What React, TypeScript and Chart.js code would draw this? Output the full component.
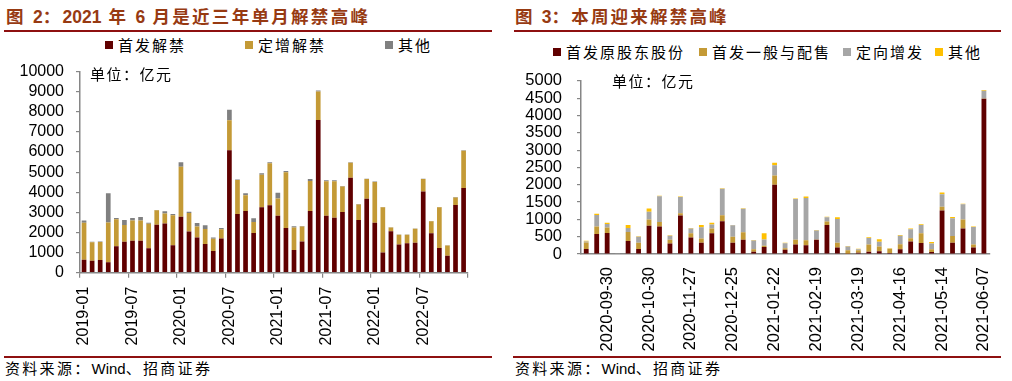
import React, { useEffect, useRef } from "react";
import { Chart, registerables } from "chart.js";

Chart.register(...registerables);

// ---------- Figure 2: monthly unlock (亿元) ----------
const monthLabels: string[] = [
  "2019-01", "2019-02", "2019-03", "2019-04", "2019-05", "2019-06",
  "2019-07", "2019-08", "2019-09", "2019-10", "2019-11", "2019-12",
  "2020-01", "2020-02", "2020-03", "2020-04", "2020-05", "2020-06",
  "2020-07", "2020-08", "2020-09", "2020-10", "2020-11", "2020-12",
  "2021-01", "2021-02", "2021-03", "2021-04", "2021-05", "2021-06",
  "2021-07", "2021-08", "2021-09", "2021-10", "2021-11", "2021-12",
  "2022-01", "2022-02", "2022-03", "2022-04", "2022-05", "2022-06",
  "2022-07", "2022-08", "2022-09", "2022-10", "2022-11", "2022-12",
];
const ipoUnlock: number[] = [
  645, 600, 630, 520, 1320, 1540, 1590, 1590, 1210, 2390, 2450, 1370,
  2780, 2045, 1745, 1430, 1085, 1700, 6085, 2925, 3066, 1980, 3255, 3350,
  2830, 2217, 1130, 1555, 3066, 7594, 2830, 2736, 3019, 4717, 2626, 3680,
  2484, 1006, 2060, 1400, 1462, 1494, 4041, 1965, 1226, 849, 3365, 4214,
];
const placementUnlock: number[] = [
  1840, 910, 895, 1980, 1337, 835, 1005, 1005, 1227, 710, 490, 1490,
  2490, 925, 550, 740, 597, 455, 1495, 1682, 784, 535, 1620, 2090,
  865, 2783, 1120, 740, 1494, 1416, 1714, 1808, 1273, 755, 770, 974,
  2029, 2249, 188, 487, 425, 692, 613, 598, 2029, 503, 377, 1855,
];
const otherUnlock: number[] = [
  110, 30, 30, 1445, 63, 250, 125, 175, 48, 15, 110, 65,
  220, 65, 175, 190, 63, 62, 520, 25, 95, 190, 75, 50,
  285, 63, 60, 25, 94, 47, 47, 47, 16, 20, 20, 20,
  18, 18, 10, 18, 18, 18, 18, 10, 18, 10, 18, 18,
];
const leftLegend: string[] = ["首发解禁", "定增解禁", "其他"];

// ---------- Figure 3: weekly unlock (亿元) ----------
const weekLabels: string[] = [
  "2020-09-18", "2020-09-25", "2020-09-30", "2020-10-09", "2020-10-16",
  "2020-10-23", "2020-10-30", "2020-11-06", "2020-11-13", "2020-11-20",
  "2020-11-27", "2020-12-04", "2020-12-11", "2020-12-18", "2020-12-25",
  "2021-01-01", "2021-01-08", "2021-01-15", "2021-01-22", "2021-01-29",
  "2021-02-05", "2021-02-12", "2021-02-19", "2021-02-26", "2021-03-05",
  "2021-03-12", "2021-03-19", "2021-03-26", "2021-04-02", "2021-04-09",
  "2021-04-16", "2021-04-23", "2021-04-30", "2021-05-07", "2021-05-14",
  "2021-05-21", "2021-05-28", "2021-06-04", "2021-06-07",
];
const ipoOriginalHolders: number[] = [
  145, 578, 605, 0, 378, 145, 813, 795, 300, 1112,
  473, 327, 600, 945, 327, 409, 64, 200, 2000, 122,
  273, 255, 409, 836, 191, 9, 36, 64, 82, 27,
  136, 364, 318, 55, 1255, 327, 736, 191, 4482,
];
const ipoGeneralPlacement: number[] = [
  188, 218, 159, 12, 258, 182, 187, 132, 109, 66,
  127, 118, 136, 173, 173, 218, 72, 36, 264, 45,
  136, 145, 9, 100, 136, 100, 73, 209, 136, 118,
  146, 91, 282, 81, 109, 191, 264, 82, 9,
];
const privatePlacement: number[] = [
  27, 330, 100, 10, 114, 173, 218, 740, 118, 472,
  136, 328, 119, 764, 327, 682, 255, 182, 300, 140,
  1182, 1218, 264, 128, 682, 109, 27, 191, 137, 10,
  245, 263, 236, 164, 363, 518, 436, 509, 227,
];
const otherTypes: number[] = [
  22, 40, 36, 0, 86, 14, 95, 12, 14, 12,
  14, 63, 45, 14, 14, 14, 14, 182, 72, 20,
  14, 46, 14, 14, 55, 14, 14, 20, 72, 14,
  20, 20, 20, 45, 46, 30, 14, 14, 20,
];
const rightLegend: string[] = ["首发原股东股份", "首发一般与配售", "定向增发", "其他"];

const MAROON = "#600000";
const GOLD = "#C49A36";
const DARKGREY = "#808080";
const LIGHTGREY = "#A6A6A6";
const YELLOW = "#FFC000";
const AXIS = "#868686";
const RULE = "#8E1010";
const TITLE = "#973A12";
const NUM_FONT = '"Liberation Sans", Arial, sans-serif';
const CJK_FONT = '"Noto Sans CJK SC", "Liberation Sans", sans-serif';

function baseOptions(p: {
  padTop: number;
  padRight: number;
  yWidth: number;
  xHeight: number;
  yMax: number;
  yStep: number;
  labelEvery: number;
  labelStart: number;
  xTicks: boolean;
  xPad: number;
  yPad: number;
  fontSize: number;
}): any {
  return {
    responsive: false,
    animation: false,
    events: [],
    layout: { padding: { top: p.padTop, right: p.padRight, left: 0, bottom: 0 } },
    plugins: {
      legend: { display: false },
      tooltip: { enabled: false },
      title: { display: false },
    },
    scales: {
      x: {
        stacked: true,
        offset: true,
        grid: {
          offset: true,
          drawOnChartArea: false,
          drawTicks: true,
          tickLength: 5,
          lineWidth: 1.2,
          color: AXIS,
          tickColor: (c: any) =>
            p.xTicks && (c.index === undefined || c.index % p.labelEvery === 0)
              ? AXIS
              : "rgba(0,0,0,0)",
        },
        border: { color: AXIS, width: 1.5 },
        ticks: {
          autoSkip: false,
          maxRotation: 90,
          minRotation: 90,
          padding: p.xPad,
          color: "#000",
          font: { family: NUM_FONT, size: p.fontSize },
          callback: function (this: any, v: any, i: number) {
            return i % p.labelEvery === p.labelStart ? this.getLabelForValue(v) : "";
          },
        },
        afterFit: (s: any) => {
          s.height = p.xHeight;
        },
      },
      y: {
        stacked: true,
        min: 0,
        max: p.yMax,
        grid: {
          drawOnChartArea: false,
          drawTicks: true,
          tickLength: 4,
          color: AXIS,
          lineWidth: 1.2,
        },
        border: { color: AXIS, width: 1.5 },
        ticks: {
          autoSkip: false,
          stepSize: p.yStep,
          padding: p.yPad,
          color: "#000",
          font: { family: NUM_FONT, size: p.fontSize },
          callback: (v: any) => String(v),
        },
        afterFit: (s: any) => {
          s.width = p.yWidth;
        },
      },
    },
  };
}

const abs = (o: React.CSSProperties): React.CSSProperties => ({ position: "absolute", ...o });
const latin = (t: string) => <span style={{ letterSpacing: 0 }}>{t}</span>;

function LegendItem({ x, y, color, text }: { x: number; y: number; color: string; text: string }) {
  return (
    <>
      <div style={abs({ left: x, top: y - 4, width: 8, height: 8, background: color })} />
      <div
        style={abs({
          left: x + 13,
          top: y - 11,
          height: 22,
          lineHeight: "22px",
          fontFamily: CJK_FONT,
          fontSize: 15,
          letterSpacing: 2,
          color: "#000",
          whiteSpace: "nowrap",
        })}
      >
        {text}
      </div>
    </>
  );
}

export default function App() {
  const leftRef = useRef<HTMLCanvasElement | null>(null);
  const rightRef = useRef<HTMLCanvasElement | null>(null);

  useEffect(() => {
    const charts: Chart[] = [];
    if (leftRef.current) {
      charts.push(
        new Chart(leftRef.current, {
          type: "bar",
          data: {
            labels: monthLabels,
            datasets: [
              { label: leftLegend[0], data: ipoUnlock, backgroundColor: MAROON, barPercentage: 0.58, categoryPercentage: 1 },
              { label: leftLegend[1], data: placementUnlock, backgroundColor: GOLD, barPercentage: 0.58, categoryPercentage: 1 },
              { label: leftLegend[2], data: otherUnlock, backgroundColor: DARKGREY, barPercentage: 0.58, categoryPercentage: 1 },
            ],
          },
          options: baseOptions({
            padTop: 10.7,
            padRight: 20,
            yWidth: 80,
            xHeight: 83.3,
            yMax: 10000,
            yStep: 1000,
            labelEvery: 6,
            labelStart: 0,
            xTicks: true,
            xPad: 9,
            yPad: 12,
            fontSize: 16,
          }),
        })
      );
    }
    if (rightRef.current) {
      charts.push(
        new Chart(rightRef.current, {
          type: "bar",
          data: {
            labels: weekLabels,
            datasets: [
              { label: rightLegend[0], data: ipoOriginalHolders, backgroundColor: MAROON, barPercentage: 0.46, categoryPercentage: 1 },
              { label: rightLegend[1], data: ipoGeneralPlacement, backgroundColor: GOLD, barPercentage: 0.46, categoryPercentage: 1 },
              { label: rightLegend[2], data: privatePlacement, backgroundColor: LIGHTGREY, barPercentage: 0.46, categoryPercentage: 1 },
              { label: rightLegend[3], data: otherTypes, backgroundColor: YELLOW, barPercentage: 0.46, categoryPercentage: 1 },
            ],
          },
          options: baseOptions({
            padTop: 14.7,
            padRight: 22,
            yWidth: 76,
            xHeight: 102,
            yMax: 5000,
            yStep: 500,
            labelEvery: 4,
            labelStart: 2,
            xTicks: false,
            xPad: 8,
            yPad: 15,
            fontSize: 16.5,
          }),
        })
      );
    }
    return () => {
      charts.forEach((c) => c.destroy());
    };
  }, []);

  const titleStyle: React.CSSProperties = {
    fontFamily: '"Liberation Sans", "Noto Sans CJK SC", sans-serif',
    fontWeight: 700,
    fontSize: 17.5,
    letterSpacing: 2.3,
    color: TITLE,
    whiteSpace: "nowrap",
    lineHeight: "22px",
    height: 22,
  };
  const unitStyle: React.CSSProperties = {
    fontFamily: CJK_FONT,
    fontSize: 15,
    letterSpacing: 1.5,
    color: "#000",
    whiteSpace: "nowrap",
    lineHeight: "20px",
    height: 20,
  };
  const sourceStyle: React.CSSProperties = {
    fontFamily: '"Liberation Sans", "Noto Sans CJK SC", sans-serif',
    fontSize: 15,
    letterSpacing: 2.3,
    color: "#000",
    whiteSpace: "nowrap",
    lineHeight: "20px",
    height: 20,
  };

  return (
    <div
      style={abs({
        left: 0,
        top: 0,
        width: 1012,
        height: 381,
        background: "#fff",
        overflow: "hidden",
      })}
    >
      {/* Left panel */}
      <div style={abs({ left: 6, top: 6, ...titleStyle })}>
        图 {latin("2")}：{latin("2021")} 年 {latin("6")} 月是近三年单月解禁高峰
      </div>
      <div style={abs({ left: 4, top: 29.5, width: 488, height: 2.5, background: RULE })} />
      <LegendItem x={105} y={44.5} color={MAROON} text={leftLegend[0]} />
      <LegendItem x={245} y={44.5} color={GOLD} text={leftLegend[1]} />
      <LegendItem x={385} y={44.5} color={DARKGREY} text={leftLegend[2]} />
      <canvas
        ref={leftRef}
        width={492}
        height={306}
        style={abs({ left: 0, top: 50, width: 492, height: 306 })}
      />
      <div style={abs({ left: 90, top: 64, ...unitStyle })}>单位：亿元</div>
      <div style={abs({ left: 4, top: 356, width: 488, height: 1.7, background: RULE })} />
      <div style={abs({ left: 5, top: 359, ...sourceStyle })}>资料来源：{latin("Wind")}、招商证券</div>

      {/* Right panel */}
      <div style={abs({ left: 515, top: 6, ...titleStyle, letterSpacing: 2.2 })}>
        图 {latin("3")}：本周迎来解禁高峰
      </div>
      <div style={abs({ left: 514, top: 29.5, width: 487, height: 2.5, background: RULE })} />
      <LegendItem x={553} y={51.5} color={MAROON} text={rightLegend[0]} />
      <LegendItem x={699} y={51.5} color={GOLD} text={rightLegend[1]} />
      <LegendItem x={843} y={51.5} color={LIGHTGREY} text={rightLegend[2]} />
      <LegendItem x={935} y={51.5} color={YELLOW} text={rightLegend[3]} />
      <canvas
        ref={rightRef}
        width={507}
        height={300}
        style={abs({ left: 505, top: 56, width: 507, height: 300 })}
      />
      <div style={abs({ left: 612, top: 71, ...unitStyle })}>单位：亿元</div>
      <div style={abs({ left: 513, top: 356, width: 488, height: 1.7, background: RULE })} />
      <div style={abs({ left: 515, top: 359, ...sourceStyle })}>资料来源：{latin("Wind")}、招商证券</div>
    </div>
  );
}
